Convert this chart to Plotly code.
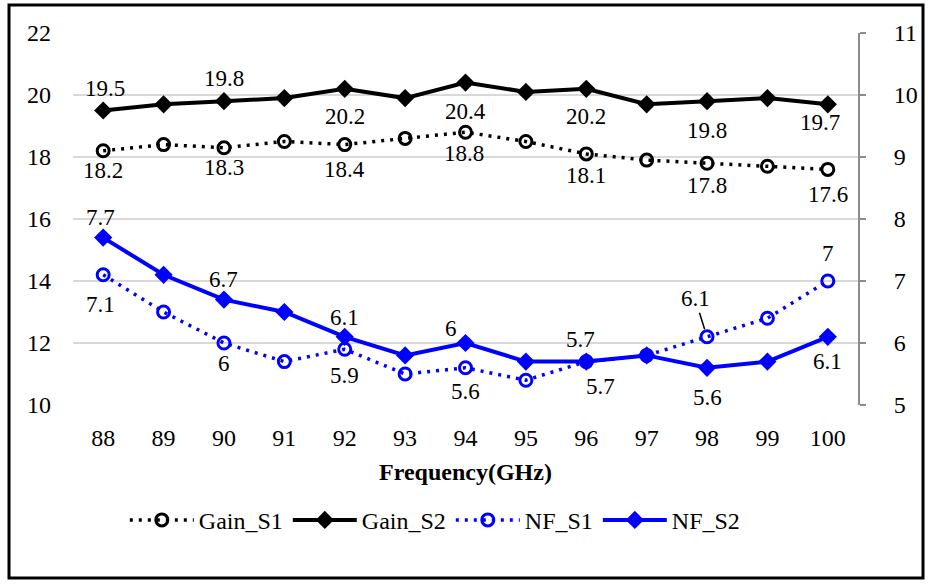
import plotly.graph_objects as go

freq = [88, 89, 90, 91, 92, 93, 94, 95, 96, 97, 98, 99, 100]
gain_s1 = [18.2, 18.4, 18.3, 18.5, 18.4, 18.6, 18.8, 18.5, 18.1, 17.9, 17.8, 17.7, 17.6]
gain_s2 = [19.5, 19.7, 19.8, 19.9, 20.2, 19.9, 20.4, 20.1, 20.2, 19.7, 19.8, 19.9, 19.7]
nf_s1 = [7.1, 6.5, 6.0, 5.7, 5.9, 5.5, 5.6, 5.4, 5.7, 5.8, 6.1, 6.4, 7.0]
nf_s2 = [7.7, 7.1, 6.7, 6.5, 6.1, 5.8, 6.0, 5.7, 5.7, 5.8, 5.6, 5.7, 6.1]
left_ticks = [10, 12, 14, 16, 18, 20, 22]
right_ticks = [5, 6, 7, 8, 9, 10, 11]

# label style: index -> (xshift, yshift) in px
gain_s1_lbl = {0: (0, -20), 2: (0, -20), 4: (0, -25), 6: (-2, -21), 8: (0, -22), 10: (0, -22), 12: (0, -25)}
gain_s2_lbl = {0: (2, 22), 2: (0, 23), 4: (0, -28), 6: (0, -29), 8: (0, -28), 10: (0, -29), 12: (-8, -18)}
nf_s1_lbl = {0: (-3, -30), 2: (0, -20), 4: (0, -26), 6: (0, -24), 8: (14, -25), 12: (0, 28)}
nf_s2_lbl = {0: (-3, 20), 2: (0, 20), 4: (0, 19), 6: (-15, 15), 8: (-6, 22), 10: (0, -30), 12: (0, -25)}

FONT = "Liberation Serif"
BLUE = "#0000FF"

fig = go.Figure()
fig.add_trace(go.Scatter(
    x=freq, y=gain_s1, name="Gain_S1", mode="lines+markers",
    line=dict(color="black", width=3.5, dash="3px,6px"),
    marker=dict(symbol="circle-open", size=12, color="black", line=dict(width=3)),
))
fig.add_trace(go.Scatter(
    x=freq, y=gain_s2, name="Gain_S2", mode="lines+markers",
    line=dict(color="black", width=4),
    marker=dict(symbol="diamond", size=14, color="black"),
))
fig.add_trace(go.Scatter(
    x=freq, y=nf_s1, name="NF_S1", mode="lines+markers", yaxis="y2",
    line=dict(color=BLUE, width=3.5, dash="3px,6px"),
    marker=dict(symbol="circle-open", size=12, color=BLUE, line=dict(width=3)),
))
fig.add_trace(go.Scatter(
    x=freq, y=nf_s2, name="NF_S2", mode="lines+markers", yaxis="y2",
    line=dict(color=BLUE, width=4),
    marker=dict(symbol="diamond", size=14, color=BLUE),
))

annotations = []
def add_labels(values, spec, yref):
    for i, (dx, dy) in spec.items():
        annotations.append(dict(
            x=freq[i], y=values[i], xref="x", yref=yref,
            text=f"{values[i]:g}", showarrow=False,
            xshift=dx, yshift=dy,
            font=dict(family=FONT, size=23, color="black"),
        ))

add_labels(gain_s1, gain_s1_lbl, "y")
add_labels(gain_s2, gain_s2_lbl, "y")
add_labels(nf_s1, nf_s1_lbl, "y2")
add_labels(nf_s2, nf_s2_lbl, "y2")

# leader-line label for NF_S1 at 98 GHz
annotations.append(dict(
    x=freq[10], y=nf_s1[10], xref="x", yref="y2",
    text=f"{nf_s1[10]:g}", showarrow=True, arrowhead=0, arrowwidth=1.5,
    arrowcolor="black", ax=-12, ay=-38, standoff=8,
    font=dict(family=FONT, size=23, color="black"),
))

fig.update_layout(
    width=931, height=586,
    margin=dict(l=73, r=73, t=33, b=181),
    paper_bgcolor="white", plot_bgcolor="white",
    font=dict(family=FONT, size=24, color="black"),
    showlegend=True,
    legend=dict(
        orientation="h", x=0.066, xanchor="left", y=-0.31, yanchor="middle",
        font=dict(family=FONT, size=24, color="black"),
        itemwidth=64, traceorder="normal", bgcolor="rgba(0,0,0,0)",
    ),
    xaxis=dict(
        range=[87.5, 100.5], tickmode="array", tickvals=freq,
        ticktext=[str(f) for f in freq],
        showgrid=False, zeroline=False, showline=False, ticks="",
        ticklabelstandoff=16,
        tickfont=dict(family=FONT, size=24, color="black"),
        title=dict(text="<b>Frequency(GHz)</b>", standoff=13,
                   font=dict(family=FONT, size=24, color="black")),
    ),
    yaxis=dict(
        range=[10, 22], tickmode="array", tickvals=left_ticks,
        showgrid=True, gridcolor="#d9d9d9", gridwidth=1.5,
        zeroline=False, showline=False, ticks="",
        ticklabelstandoff=21,
        tickfont=dict(family=FONT, size=24, color="black"),
    ),
    yaxis2=dict(
        range=[5, 11], tickmode="array", tickvals=right_ticks,
        overlaying="y", side="right", showgrid=False, zeroline=False,
        showline=True, linecolor="#8c8c8c", linewidth=2,
        ticks="outside", ticklen=6, tickwidth=2, tickcolor="#8c8c8c",
        ticklabelstandoff=23,
        tickfont=dict(family=FONT, size=24, color="black"),
    ),
    annotations=annotations,
    shapes=[dict(
        type="rect", xref="paper", yref="paper",
        x0=(9 - 73) / 785, x1=(923 - 73) / 785,
        y0=(405 - 578) / 372, y1=(405 - 5) / 372,
        line=dict(color="black", width=3), fillcolor="rgba(0,0,0,0)", layer="below",
    )],
)

fig.write_html("out.html", post_script="document.body.style.margin='0';",
               config={"displayModeBar": False})
